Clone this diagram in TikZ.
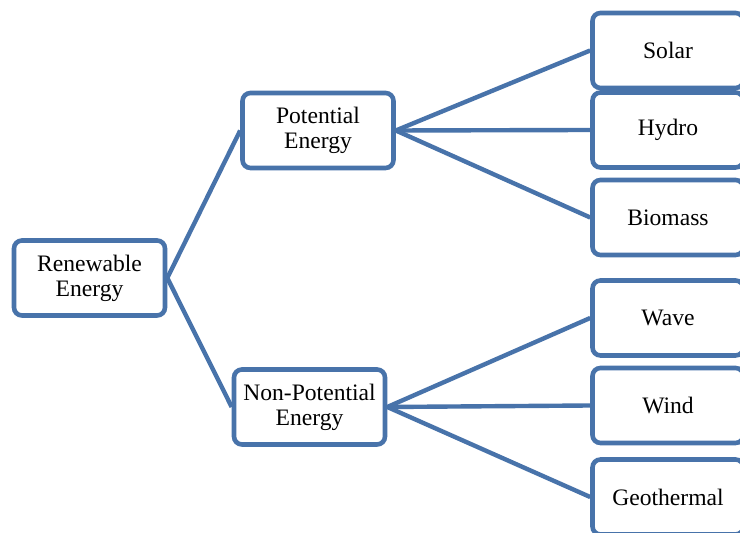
\documentclass[tikz,border=0pt]{standalone}
\usepackage{fontspec}
\setmainfont{Liberation Serif}
\usetikzlibrary{positioning}

\begin{document}
\begin{tikzpicture}[x=0.5pt,y=-0.5pt,
  box/.style={draw=linkblue,line width=2.3pt,rounded corners=4pt,fill=white,minimum width=75.5pt,minimum height=37.5pt,align=center,font=\fontsize{11.8}{12.5}\selectfont,inner sep=1pt},
  link/.style={draw=linkblue,line width=2.2pt}
]
\definecolor{linkblue}{RGB}{72,115,170}
\clip (0,0) rectangle (740,533);
\fill[white] (0,0) rectangle (740,533);

\node[box] (renew) at (89.5,278) {Renewable\\Energy};
\node[box] (pot) at (318,130.5) {Potential\\Energy};
\node[box] (nonpot) at (309.5,407) {Non-Potential\\Energy};

% right column, cut at the page edge
\node[box] (solar) at (668,50.5) {Solar};
\node[box] (hydro) at (668,130) {Hydro};
\node[box] (bio) at (668,217.5) {Biomass};
\node[box] (wave) at (668,318) {Wave};
\node[box] (wind) at (668,405.5) {Wind};
\node[box] (geo) at (668,497) {Geothermal};

\draw[link] (renew.east) -- (pot.west);
\draw[link] (renew.east) -- (nonpot.west);
\foreach \leaf in {solar,hydro,bio}
  \draw[link] (pot.east) -- (\leaf.west);
\foreach \leaf in {wave,wind,geo}
  \draw[link] (nonpot.east) -- (\leaf.west);
\end{tikzpicture}
\end{document}
